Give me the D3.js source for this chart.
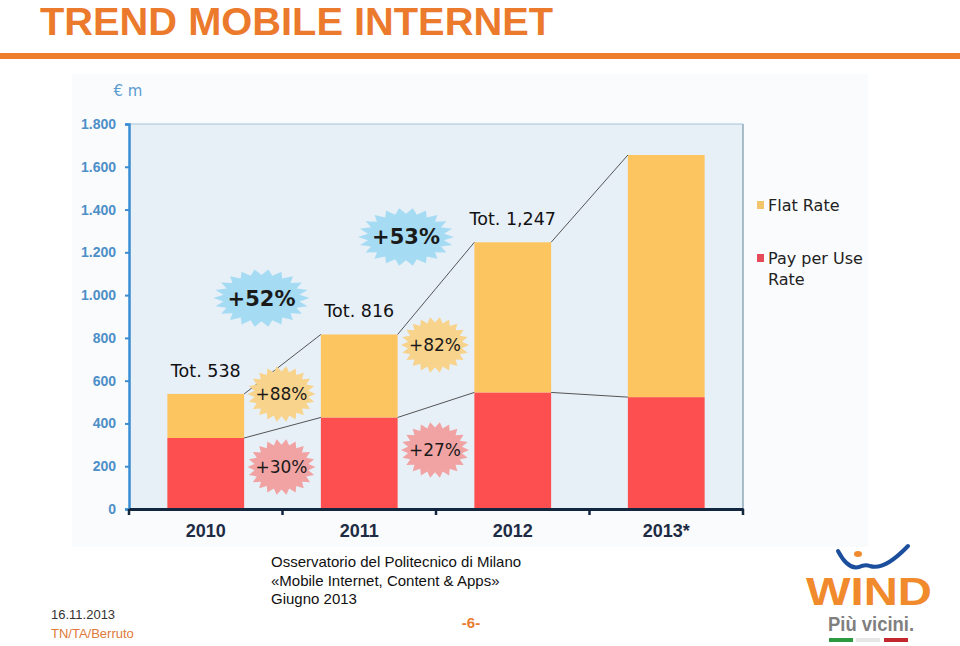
<!DOCTYPE html>
<html>
<head>
<meta charset="utf-8">
<script src="https://cdn.jsdelivr.net/npm/d3@7"></script>
<style>
  html, body { margin: 0; padding: 0; background: #fff; }
  svg { display: block; }
</style>
</head>
<body>
<svg id="chart" width="960" height="646"></svg>
<script>
// ---- data ----
const years = ["2010", "2011", "2012", "2013*"];
const payPerUse = [332, 428, 545, 523];
const flatRate = [206, 388, 702, 1132];
const totalLabels = ["Tot. 538", "Tot. 816", "Tot. 1,247"];
const yTicks = [0, 200, 400, 600, 800, 1000, 1200, 1400, 1600, 1800];
const growthTotal = ["+52%", "+53%"];
const growthFlat = ["+88%", "+82%"];
const growthPPU = ["+30%", "+27%"];
const seriesNames = ["Flat Rate", "Pay per Use Rate"];

const svg = d3.select("#chart");
const FONT = "'DejaVu Sans', Verdana, sans-serif";

// ---- header ----
svg.append("text").attr("x", 40).attr("y", 34.5)
  .attr("font-family", "'Liberation Sans Narrow', 'Liberation Sans', Arial, sans-serif")
  .attr("font-weight", "bold").attr("font-size", 38)
  .attr("textLength", 513).attr("lengthAdjust", "spacingAndGlyphs")
  .attr("fill", "#ec7a2c").text("TREND MOBILE INTERNET");
svg.append("rect").attr("x", 0).attr("y", 53).attr("width", 960).attr("height", 6).attr("fill", "#ee7d2e");

// chart picture backdrop
svg.append("rect").attr("x", 72).attr("y", 74).attr("width", 796).attr("height", 473).attr("fill", "#fafbfc");

// ---- scales ----
const y = d3.scaleLinear().domain([0, 1800]).range([509, 124]);
const x = d3.scaleBand().domain(years).range([129, 743]).paddingInner(0.5).paddingOuter(0.25);

// plot area
svg.append("rect").attr("x", 129).attr("y", y(1800)).attr("width", 743 - 129).attr("height", y(0) - y(1800))
  .attr("fill", "#e7eff7");
svg.append("line").attr("x1", 129).attr("x2", 743).attr("y1", y(1800)).attr("y2", y(1800))
  .attr("stroke", "#a8c3da").attr("stroke-width", 1.2);
svg.append("line").attr("x1", 743).attr("x2", 743).attr("y1", y(1800)).attr("y2", y(0))
  .attr("stroke", "#8fa8b8").attr("stroke-width", 1.5);

// ---- bars ----
const rows = years.map((yr, i) => ({ yr, ppu: payPerUse[i], flat: flatRate[i] }));
const stack = d3.stack().keys(["ppu", "flat"])(rows);
const colors = { ppu: "#fd4f4f", flat: "#fcc55f" };
svg.append("g").selectAll("g").data(stack).join("g")
  .attr("fill", d => colors[d.key])
  .selectAll("rect").data(d => d).join("rect")
  .attr("x", d => x(d.data.yr)).attr("width", x.bandwidth())
  .attr("y", d => y(d[1])).attr("height", d => y(d[0]) - y(d[1]));

// ---- connector lines ----
const conn = svg.append("g").attr("stroke", "#555").attr("stroke-width", 1).attr("fill", "none");
stack.forEach(layer => {
  for (let i = 0; i < layer.length - 1; i++) {
    conn.append("line")
      .attr("x1", x(years[i]) + x.bandwidth()).attr("y1", y(layer[i][1]))
      .attr("x2", x(years[i + 1])).attr("y2", y(layer[i + 1][1]));
  }
});

// ---- axes ----
const yAxis = svg.append("g").attr("transform", "translate(129,0)")
  .call(d3.axisLeft(y).tickValues(yTicks).tickSize(4).tickPadding(9)
    .tickFormat(d => d3.format(",")(d).replace(",", ".")));
yAxis.select(".domain").attr("stroke", "#3a8dd3").attr("stroke-width", 2.5);
yAxis.selectAll(".tick line").attr("stroke", "#3a8dd3").attr("stroke-width", 2);
yAxis.selectAll(".tick text").attr("fill", "#4d8fc7").attr("font-family", "'Liberation Sans', Arial, sans-serif")
  .attr("font-weight", "bold").attr("font-size", 14);

const xAxis = svg.append("g").attr("transform", `translate(0,${y(0)})`)
  .call(d3.axisBottom(x).tickSize(0).tickPadding(15));
xAxis.select(".domain").attr("stroke", "#13263f").attr("stroke-width", 3);
xAxis.selectAll(".tick text").attr("fill", "#1d2b45").attr("font-family", "'Liberation Sans', Arial, sans-serif")
  .attr("font-weight", "bold").attr("font-size", 18);
// boundary ticks
const bounds = d3.range(years.length + 1).map(i => 129 + i * x.step());
svg.append("g").selectAll("line").data(bounds).join("line")
  .attr("x1", d => d).attr("x2", d => d).attr("y1", y(0)).attr("y2", y(0) + 6)
  .attr("stroke", "#13263f").attr("stroke-width", 2.5);

svg.append("text").attr("x", 128).attr("y", 96).attr("text-anchor", "middle")
  .attr("font-family", FONT).attr("font-size", 15).attr("fill", "#5a9bd0").text("€ m");

// ---- total labels ----
svg.append("g").selectAll("text").data(totalLabels).join("text")
  .attr("x", (d, i) => x(years[i]) + x.bandwidth() / 2)
  .attr("y", (d, i) => y(payPerUse[i] + flatRate[i]) - 17)
  .attr("text-anchor", "middle").attr("font-family", FONT).attr("font-size", 17.5)
  .attr("fill", "#111").text(d => d);

// ---- starbursts ----
function burstPath(rx, ry, n) {
  const pts = [];
  for (let k = 0; k < n * 2; k++) {
    const a = (Math.PI * k) / n;
    const f = k % 2 === 0 ? 1 : 0.8;
    pts.push([Math.cos(a) * rx * f, Math.sin(a) * ry * f]);
  }
  return d3.line()(pts) + "Z";
}
function gapX(i) { return x(years[i]) + x.bandwidth() + (x.step() - x.bandwidth()) / 2; }

const bursts = [
  ...growthTotal.map((t, i) => ({ t, cx: gapX(i) - (i === 0 ? 21 : 30), cy: y([986, 1272][i]), rx: 48, ry: 29, fill: "#a6dcf3", fs: 21 })),
  ...growthFlat.map((t, i) => ({ t, cx: gapX(i) - 1, cy: y([538, 767][i]), rx: 34, ry: 28, fill: "#f8d38c", fs: 17 })),
  ...growthPPU.map((t, i) => ({ t, cx: gapX(i) - 1, cy: y([196, 276][i]), rx: 34, ry: 28, fill: "#f1a3a3", fs: 17 }))
];
const bg = svg.append("g").selectAll("g").data(bursts).join("g")
  .attr("transform", d => `translate(${d.cx},${d.cy})`);
bg.append("path").attr("d", d => burstPath(d.rx, d.ry, 22)).attr("fill", d => d.fill);
bg.append("text").attr("text-anchor", "middle").attr("dy", "0.36em")
  .attr("font-family", FONT).attr("font-size", d => d.fs).attr("fill", "#1a1a1a")
  .attr("font-weight", d => d.fs > 18 ? "bold" : "normal")
  .text(d => d.t);

// ---- legend ----
const leg = svg.append("g").attr("font-family", FONT).attr("font-size", 16).attr("fill", "#222");
leg.append("rect").attr("x", 757).attr("y", 201).attr("width", 7).attr("height", 8).attr("fill", "#f3c56b");
leg.append("text").attr("x", 768).attr("y", 211).text(seriesNames[0]);
leg.append("rect").attr("x", 757).attr("y", 254).attr("width", 7).attr("height", 8).attr("fill", "#e64b5a");
leg.append("text").attr("x", 768).attr("y", 264).text("Pay per Use");
leg.append("text").attr("x", 768).attr("y", 285).text("Rate");

// ---- footer ----
const foot = svg.append("g").attr("font-family", "'Liberation Sans', Arial, sans-serif");
["Osservatorio del Politecnico di Milano", "«Mobile Internet, Content & Apps»", "Giugno 2013"].forEach((t, i) => {
  foot.append("text").attr("x", 271).attr("y", 567 + i * 18.5).attr("font-size", 15).attr("fill", "#111").text(t);
});
foot.append("text").attr("x", 51).attr("y", 619).attr("font-size", 13).attr("fill", "#333").text("16.11.2013");
foot.append("text").attr("x", 51).attr("y", 638).attr("font-size", 13).attr("fill", "#e07a38").text("TN/TA/Berruto");
foot.append("text").attr("x", 471).attr("y", 628).attr("text-anchor", "middle").attr("font-size", 15)
  .attr("font-weight", "bold").attr("fill", "#e97b30").text("-6-");

// ---- WIND logo ----
const logo = svg.append("g");
logo.append("path").attr("d", "M838,551 Q848,570 859,567 Q865,564 870,566 Q884,571 908,546")
  .attr("fill", "none").attr("stroke", "#1b4f9e").attr("stroke-width", 4).attr("stroke-linecap", "round");
logo.append("ellipse").attr("cx", 858).attr("cy", 554).attr("rx", 4).attr("ry", 3).attr("fill", "#f08a2c");
logo.append("text").attr("x", 806).attr("y", 605).attr("font-family", "'Liberation Sans', Arial, sans-serif")
  .attr("font-weight", "bold").attr("font-size", 39).attr("textLength", 126).attr("lengthAdjust", "spacingAndGlyphs")
  .attr("fill", "#f08a2c").text("WIND");
logo.append("text").attr("x", 828).attr("y", 631).attr("font-family", "'Liberation Sans Narrow', 'Liberation Sans', Arial, sans-serif")
  .attr("font-weight", "bold").attr("font-size", 21).attr("textLength", 86).attr("lengthAdjust", "spacingAndGlyphs")
  .attr("fill", "#7f7f7f").text("Più vicini.");
[["#2e9a40", 829], ["#e6e6e6", 856], ["#c1272d", 884]].forEach(([c, x0]) => {
  logo.append("rect").attr("x", x0).attr("y", 638).attr("width", 24).attr("height", 4).attr("fill", c);
});
</script>
</body>
</html>
